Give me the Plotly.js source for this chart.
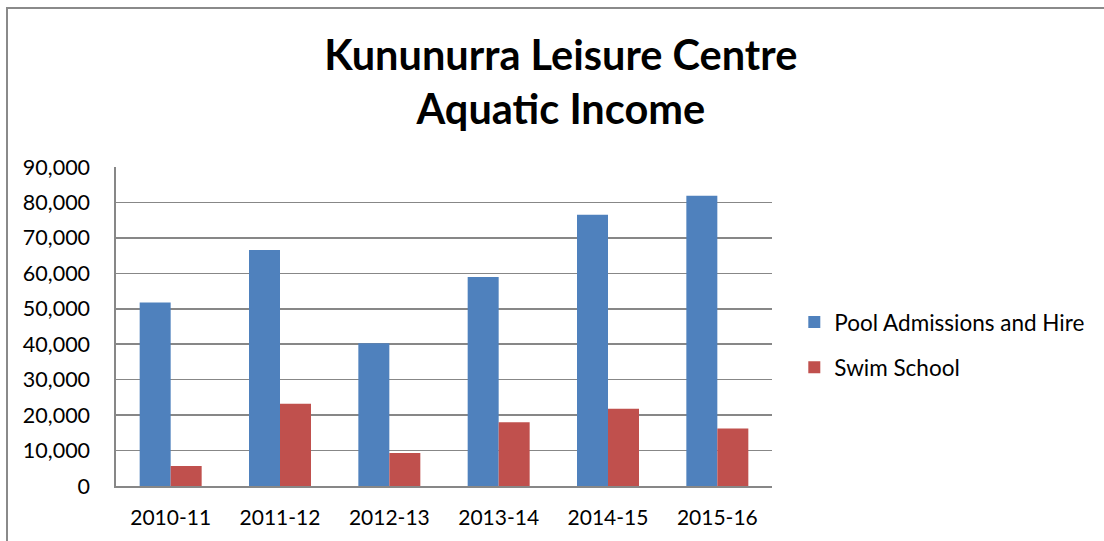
<!DOCTYPE html>
<html>
<head>
<meta charset="utf-8">
<script src="https://cdn.plot.ly/plotly-3.0.1.min.js"></script>
<style>
  html, body { margin: 0; padding: 0; background: #fff; }
  #chart { position: absolute; left: 0; top: 0; width: 1104px; height: 541px; }
  #frame { position: absolute; left: 6px; top: 7px; width: 1200px; height: 700px;
           border-left: 2px solid #8a8a8a; border-top: 2px solid #8a8a8a;
           pointer-events: none; z-index: 10; }
</style>
</head>
<body>
<div id="chart"></div>
<div id="frame"></div>
<script>
const categories = ["2010-11", "2011-12", "2012-13", "2013-14", "2014-15", "2015-16"];
const poolAdmissions = [51800, 66600, 40300, 59000, 76500, 81900];
const swimSchool = [5650, 23200, 9300, 18000, 21800, 16200];
const yTickValues = [0, 10000, 20000, 30000, 40000, 50000, 60000, 70000, 80000, 90000];
const yTickLabels = ["0", "10,000", "20,000", "30,000", "40,000", "50,000", "60,000", "70,000", "80,000", "90,000"];

const FONT = "Lato, 'Open Sans', sans-serif";

const traces = [
  { type: "bar", name: "Pool Admissions and Hire", x: categories, y: poolAdmissions,
    marker: { color: "#4f81bd" }, legendgroup: "a", hoverinfo: "x+y" },
  { type: "bar", name: "Swim School", x: categories, y: swimSchool,
    marker: { color: "#c0504d" }, legendgroup: "b", hoverinfo: "x+y" }
];

const layout = {
  width: 1104, height: 541,
  margin: { l: 116, r: 332, t: 167, b: 55, pad: 0 },
  paper_bgcolor: "#ffffff",
  plot_bgcolor: "#ffffff",
  font: { family: FONT, color: "#000000", size: 21 },
  title: {
    text: "<b>Kununurra Leisure Centre<br>Aquatic Income</b>",
    font: { family: FONT, size: 41.5, color: "#000000" },
    xref: "container", x: 0.508, xanchor: "center",
    yref: "container", y: 0.871, yanchor: "top"
  },
  barmode: "group",
  bargap: 0.433,
  bargroupgap: 0,
  showlegend: true,
  legend: {
    x: 1.034, xanchor: "left",
    y: 0.58, yanchor: "top",
    font: { family: FONT, size: 22.5, color: "#000000" },
    traceorder: "grouped",
    tracegroupgap: 13,
    bgcolor: "rgba(0,0,0,0)"
  },
  xaxis: {
    type: "category",
    showline: true, linecolor: "#878787", linewidth: 1.6,
    showgrid: false, zeroline: false,
    ticks: "", ticklabelstandoff: 12,
    tickfont: { family: FONT, size: 21, color: "#000000" },
    fixedrange: true
  },
  yaxis: {
    range: [0, 90000],
    tickvals: yTickValues, ticktext: yTickLabels,
    showline: true, linecolor: "#878787", linewidth: 1.6,
    showgrid: true, gridcolor: "#878787", gridwidth: 1.5,
    zeroline: false,
    ticks: "", ticklabelstandoff: 20,
    tickfont: { family: FONT, size: 21.5, color: "#000000" },
    fixedrange: true
  }
};

Plotly.newPlot("chart", traces, layout, { displayModeBar: false, staticPlot: true });
</script>
</body>
</html>
